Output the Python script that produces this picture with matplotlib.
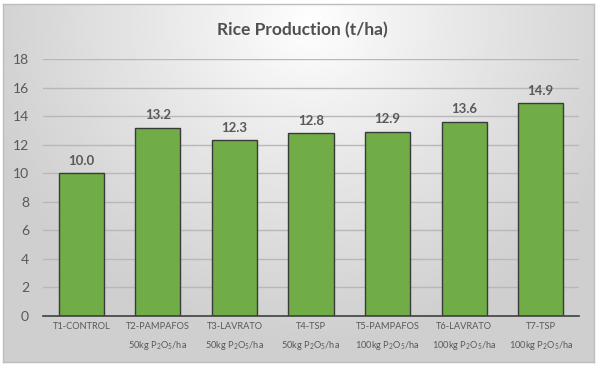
import matplotlib
matplotlib.use('Agg')
import matplotlib.pyplot as plt
import numpy as np

treatments = ['T1-CONTROL', 'T2-PAMPAFOS', 'T3-LAVRATO', 'T4-TSP',
              'T5-PAMPAFOS', 'T6-LAVRATO', 'T7-TSP']
doses = ['', '50kg', '50kg', '50kg', '100kg', '100kg', '100kg']
production = [10.0, 13.2, 12.3, 12.8, 12.9, 13.6, 14.9]

plt.rcParams['font.family'] = ['Lato', 'DejaVu Sans']
plt.rcParams['mathtext.fontset'] = 'custom'
plt.rcParams['mathtext.rm'] = 'Lato'
plt.rcParams['mathtext.it'] = 'Lato'

fig = plt.figure(figsize=(6.02, 3.67), dpi=100)

# chart area background with soft radial gradient
bg = fig.add_axes([3/602, 5/367, 591/602, 358/367])
ny, nx = 200, 300
yy, xx = np.mgrid[0:1:ny*1j, 0:1:nx*1j]
r = np.sqrt(((xx - 0.52) / 0.58) ** 2 + ((yy - 0.05) / 0.9) ** 2)
r = np.clip(r, 0, 1)
shade = 1.0 - 0.19 * r ** 0.9
bg.imshow(shade, cmap='gray', vmin=0, vmax=1, aspect='auto',
          extent=[0, 1, 1, 0], interpolation='bilinear')
bg.set_xticks([])
bg.set_yticks([])
for s in bg.spines.values():
    s.set_color('#bdbdbd')
    s.set_linewidth(1)

ax = fig.add_axes([43/602, 1 - 316/367, 536/602, 257/367])
ax.patch.set_alpha(0)

labels = []
for t, d in zip(treatments, doses):
    if d:
        labels.append(t + '\n' + d + r' P$_2$O$_5$/ha')
    else:
        labels.append(t + '\n ')

x = np.arange(len(treatments))
bars = ax.bar(x, production, width=0.59, color='#70AD47',
              edgecolor='#3a3a3a', linewidth=1, zorder=3)
for xi, v in zip(x, production):
    ax.text(xi, v + 0.45, f'{v:.1f}', ha='center', va='bottom',
            fontsize=9.5, fontweight='bold', color='#595959')

ax.set_xlim(-0.5, len(treatments) - 0.5)
ax.set_ylim(0, 18)
ax.set_yticks(range(0, 19, 2))
ax.yaxis.grid(True, color='#b8b8b8', linewidth=1, zorder=0)
ax.set_xticks(x)
ax.set_xticklabels(labels, fontsize=6.7, color='#595959', linespacing=1.9)
ax.tick_params(axis='y', labelsize=10, colors='#595959', length=0, pad=10)
ax.tick_params(axis='x', length=0, pad=4)
for s in ['top', 'right', 'left']:
    ax.spines[s].set_visible(False)
ax.spines['bottom'].set_color('#404040')
ax.spines['bottom'].set_linewidth(1.2)
ax.spines['bottom'].set_zorder(4)

fig.text(0.502, 1 - 30/367, 'Rice Production (t/ha)', ha='center', va='center',
         fontsize=12.5, fontweight='bold', color='#505050')

fig.savefig('out.png', dpi=100)
